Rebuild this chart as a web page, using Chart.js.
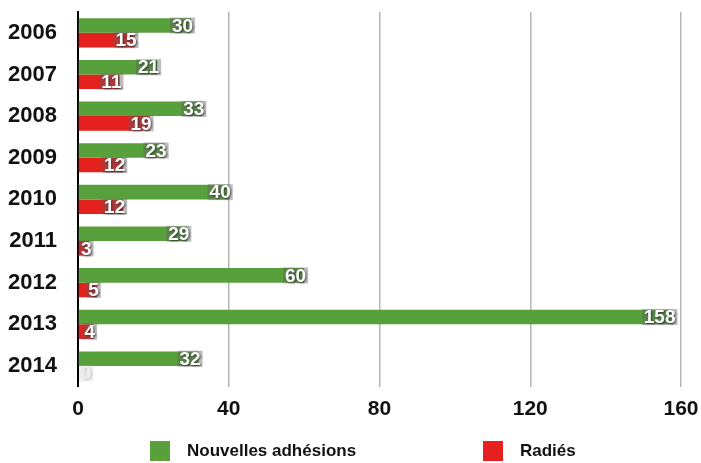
<!DOCTYPE html>
<html>
<head>
<meta charset="utf-8">
<script src="https://cdn.jsdelivr.net/npm/chart.js@4/dist/chart.umd.min.js"></script>
<style>
  html, body { margin: 0; padding: 0; background: #fff; }
  #wrap { width: 701px; height: 463px; }
</style>
</head>
<body>
<div id="wrap"><canvas id="barChart" width="701" height="463"></canvas></div>
<script>
const years = ['2006', '2007', '2008', '2009', '2010', '2011', '2012', '2013', '2014'];
const nouvelles = [30, 21, 33, 23, 40, 29, 60, 158, 32];
const radies = [15, 11, 19, 12, 12, 3, 5, 4, 0];
const xTicks = [0, 40, 80, 120, 160];

const GREEN = '#57a03c';
const RED = '#e4211e';
const FONT = 'Liberation Sans, Arial, sans-serif';

// white value labels on a grey patch at the end of each bar
const valueLabels = {
    id: 'valueLabels',
    afterDatasetsDraw(chart) {
        const ctx = chart.ctx;
        const x0 = chart.scales.x.getPixelForValue(0);
        ctx.save();
        ctx.font = 'bold 19px ' + FONT;
        ctx.textBaseline = 'middle';
        chart.data.datasets.forEach((ds, i) => {
            const meta = chart.getDatasetMeta(i);
            meta.data.forEach((bar, j) => {
                const v = ds.data[j];
                const text = String(v);
                const w = ctx.measureText(text).width;
                const x = Math.max(bar.x + 2 - w, x0 + 3);
                ctx.fillStyle = v === 0 ? 'rgba(190,190,190,0.25)' : 'rgba(95,95,95,0.4)';
                ctx.fillRect(x - 2, bar.y - 8, w + 4, 16);
                ctx.shadowColor = v === 0 ? 'rgba(160,160,160,0.5)' : 'rgba(40,40,40,0.8)';
                ctx.shadowBlur = 2;
                ctx.shadowOffsetX = 1;
                ctx.shadowOffsetY = 1;
                ctx.fillStyle = v === 0 ? '#eeeeee' : '#ffffff';
                ctx.fillText(text, x, bar.y + 1);
                ctx.shadowColor = 'transparent';
            });
        });
        ctx.restore();
    }
};

// legend drawn by hand so the two entries can sit far apart
const bottomLegend = {
    id: 'bottomLegend',
    afterDraw(chart) {
        const ctx = chart.ctx;
        const itemX = [150, 483];
        ctx.save();
        ctx.font = 'bold 17px ' + FONT;
        ctx.textBaseline = 'middle';
        chart.data.datasets.forEach((ds, i) => {
            const x = itemX[i];
            const y = 451;
            ctx.fillStyle = ds.backgroundColor;
            ctx.fillRect(x, y - 10, 20, 20);
            ctx.fillStyle = '#111';
            ctx.fillText(ds.label, x + 37, y);
        });
        ctx.restore();
    }
};

const ctx = document.getElementById('barChart').getContext('2d');
const chart = new Chart(ctx, {
    type: 'bar',
    data: {
        labels: years,
        datasets: [{
            label: 'Nouvelles adhésions',
            data: nouvelles,
            backgroundColor: GREEN,
            barPercentage: 1,
            categoryPercentage: 0.7
        }, {
            label: 'Radiés',
            data: radies,
            backgroundColor: RED,
            barPercentage: 1,
            categoryPercentage: 0.7
        }]
    },
    options: {
        indexAxis: 'y',
        responsive: false,
        animation: false,
        layout: {
            padding: { top: 12, right: 20, bottom: 31, left: 8 }
        },
        plugins: {
            legend: { display: false },
            tooltip: { enabled: false }
        },
        scales: {
            x: {
                min: 0,
                max: 160,
                afterBuildTicks: axis => {
                    axis.ticks = xTicks.map(v => ({ value: v }));
                },
                afterFit: axis => {
                    axis.paddingLeft = 0;
                    axis.paddingRight = 0;
                },
                grid: {
                    color: ctx => ctx.tick && ctx.tick.value === 0 ? 'rgba(0,0,0,0)' : '#b5b5b5',
                    lineWidth: 1.5,
                    drawTicks: false
                },
                border: { display: false },
                ticks: {
                    padding: 10,
                    color: '#111',
                    font: { family: FONT, size: 21, weight: 'bold' }
                }
            },
            y: {
                afterFit: axis => {
                    // keep the tick padding from eating vertical space
                    axis.paddingTop = 0;
                    axis.paddingBottom = 0;
                    axis.width = 70;
                },
                grid: { display: false, drawTicks: false },
                border: { display: true, color: '#000', width: 2 },
                ticks: {
                    padding: 21,
                    color: '#111',
                    font: { family: FONT, size: 22, weight: 'bold' }
                }
            }
        }
    },
    plugins: [valueLabels, bottomLegend]
});
</script>
</body>
</html>
